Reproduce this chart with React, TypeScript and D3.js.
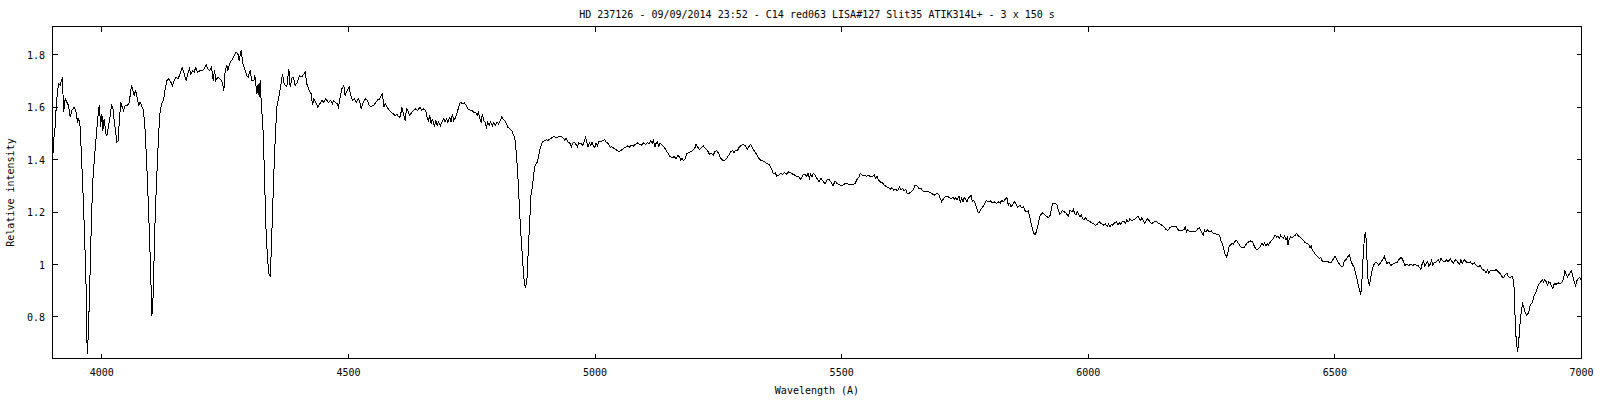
import React from 'react';
import * as d3 from 'd3';

const title = 'HD 237126 - 09/09/2014 23:52 - C14 red063 LISA#127 Slit35 ATIK314L+ - 3 x 150 s';
const xLabel = 'Wavelength (A)';
const yLabel = 'Relative intensity';
const xTicks = [4000, 4500, 5000, 5500, 6000, 6500, 7000];
const yTicks = [0.8, 1, 1.2, 1.4, 1.6, 1.8];
const yTickLabels = ['0.8', '1', '1.2', '1.4', '1.6', '1.8'];
const xDomain = [3900, 7000];
const yDomain = [0.6415, 1.908];

// [wavelength (A), relative intensity]
const spectrum: [number, number][] = [
  [3900.0, 1.378], [3902.1, 1.473], [3904.8, 1.511], [3907.5, 1.600], [3910.2, 1.664], [3912.9, 1.689], [3915.6, 1.683], [3919.0, 1.708], [3920.3, 1.712], [3922.4, 1.581],
  [3925.8, 1.632], [3929.1, 1.619], [3932.5, 1.607], [3935.9, 1.562], [3939.3, 1.588], [3944.0, 1.600], [3948.0, 1.581], [3950.7, 1.543], [3953.5, 1.556], [3956.2, 1.524],
  [3958.2, 1.435], [3960.9, 1.320], [3962.9, 1.219], [3965.0, 1.117], [3966.3, 1.028], [3968.3, 0.907], [3969.7, 0.710], [3971.0, 0.659], [3973.7, 0.799], [3975.8, 0.939],
  [3977.8, 1.091], [3979.8, 1.219], [3981.8, 1.320], [3985.2, 1.409], [3988.6, 1.486], [3991.3, 1.549], [3994.0, 1.600], [3995.3, 1.607], [3997.4, 1.524], [4000.1, 1.575],
  [4002.1, 1.511], [4004.8, 1.556], [4008.2, 1.498], [4010.2, 1.492], [4013.6, 1.530], [4017.0, 1.568], [4019.7, 1.607], [4022.4, 1.600], [4025.1, 1.549], [4027.8, 1.511],
  [4030.5, 1.467], [4033.2, 1.473], [4035.9, 1.562], [4038.6, 1.619], [4041.3, 1.600], [4044.0, 1.588], [4047.4, 1.607], [4050.8, 1.607], [4054.8, 1.613], [4057.5, 1.645],
  [4060.2, 1.683], [4062.9, 1.664], [4065.6, 1.645], [4068.3, 1.664], [4071.7, 1.638], [4074.4, 1.607], [4077.8, 1.619], [4081.8, 1.600], [4084.5, 1.588], [4087.9, 1.511],
  [4091.3, 1.371], [4094.0, 1.244], [4096.0, 1.142], [4098.1, 1.028], [4100.1, 0.900], [4101.4, 0.805], [4103.5, 0.850], [4105.5, 0.990], [4107.5, 1.142], [4110.2, 1.282],
  [4112.2, 1.371], [4114.9, 1.486], [4117.6, 1.575], [4121.0, 1.613], [4125.1, 1.626], [4127.8, 1.664], [4131.8, 1.702], [4135.2, 1.708], [4139.9, 1.696], [4143.3, 1.683],
  [4146.7, 1.702], [4150.8, 1.715], [4154.1, 1.708], [4158.9, 1.727], [4162.9, 1.753], [4167.0, 1.727], [4171.0, 1.702], [4174.4, 1.727], [4177.8, 1.747], [4180.5, 1.727],
  [4184.5, 1.740], [4187.2, 1.734], [4190.6, 1.753], [4194.0, 1.734], [4199.4, 1.740], [4203.5, 1.740], [4207.5, 1.747], [4211.6, 1.763], [4214.3, 1.747], [4218.3, 1.740],
  [4222.4, 1.753], [4225.8, 1.702], [4228.5, 1.740], [4231.2, 1.702], [4235.2, 1.715], [4240.0, 1.708], [4244.0, 1.696], [4247.4, 1.664], [4250.1, 1.740], [4253.5, 1.759],
  [4255.5, 1.740], [4258.9, 1.766], [4262.9, 1.778], [4267.0, 1.791], [4272.4, 1.810], [4275.8, 1.804], [4278.5, 1.778], [4282.5, 1.817], [4285.9, 1.766], [4289.3, 1.747],
  [4294.0, 1.721], [4296.7, 1.715], [4300.8, 1.740], [4304.1, 1.702], [4308.2, 1.702], [4310.2, 1.721], [4314.3, 1.651], [4317.0, 1.689], [4319.0, 1.638], [4321.0, 1.702],
  [4323.7, 1.600], [4326.4, 1.537], [4329.1, 1.384], [4331.2, 1.244], [4333.2, 1.117], [4335.9, 1.028], [4338.6, 0.964], [4341.3, 0.958], [4343.3, 1.040], [4346.0, 1.193],
  [4348.7, 1.346], [4351.4, 1.473], [4354.8, 1.600], [4358.9, 1.638], [4362.9, 1.683], [4366.3, 1.727], [4369.7, 1.689], [4375.1, 1.677], [4379.2, 1.747], [4381.8, 1.677],
  [4385.9, 1.715], [4388.6, 1.715], [4392.0, 1.683], [4396.7, 1.696], [4400.8, 1.721], [4405.5, 1.715],
  [4412.2, 1.734], [4415.6, 1.689], [4420.3, 1.664], [4424.4, 1.651], [4427.1, 1.607], [4429.8, 1.632], [4433.8, 1.619], [4437.9, 1.600], [4441.9, 1.613], [4446.0, 1.626],
  [4450.0, 1.619], [4454.1, 1.632], [4459.5, 1.619], [4463.6, 1.626], [4467.6, 1.613], [4470.3, 1.626], [4473.0, 1.619], [4477.1, 1.613], [4479.8, 1.600], [4482.5, 1.632],
  [4486.5, 1.670], [4490.6, 1.683], [4493.3, 1.645], [4497.3, 1.664], [4501.4, 1.677], [4504.1, 1.651], [4508.2, 1.626], [4512.2, 1.632], [4516.3, 1.619], [4520.3, 1.632],
  [4523.0, 1.619], [4525.7, 1.594], [4529.8, 1.619], [4533.8, 1.632], [4537.9, 1.628], [4541.9, 1.607], [4546.0, 1.603], [4551.4, 1.607], [4555.5, 1.619], [4559.5, 1.628],
  [4563.6, 1.632], [4566.3, 1.645], [4569.0, 1.651], [4571.7, 1.600], [4574.4, 1.613], [4578.4, 1.600], [4582.5, 1.588], [4586.5, 1.581], [4590.6, 1.575], [4594.6, 1.568],
  [4598.7, 1.572], [4602.7, 1.562], [4605.4, 1.565], [4608.2, 1.600], [4610.9, 1.581], [4614.9, 1.549], [4617.6, 1.594], [4620.3, 1.588], [4624.4, 1.568], [4628.4, 1.581],
  [4632.5, 1.588], [4636.5, 1.594], [4640.6, 1.588], [4644.6, 1.600], [4648.7, 1.588], [4652.7, 1.594], [4656.8, 1.588], [4659.5, 1.562], [4662.2, 1.549], [4664.9, 1.568],
  [4667.6, 1.537], [4670.3, 1.556], [4674.4, 1.524], [4677.1, 1.549], [4679.8, 1.530], [4682.5, 1.543], [4686.5, 1.530], [4690.6, 1.549], [4693.3, 1.556], [4696.0, 1.543],
  [4698.7, 1.556], [4701.4, 1.543], [4705.5, 1.562], [4708.2, 1.543], [4710.9, 1.575], [4713.6, 1.549], [4717.6, 1.562], [4721.7, 1.588], [4724.4, 1.607], [4727.1, 1.619],
  [4731.1, 1.613], [4735.2, 1.616], [4739.2, 1.607], [4741.9, 1.594], [4746.0, 1.590], [4750.0, 1.588], [4754.1, 1.581], [4758.2, 1.581], [4760.9, 1.568], [4763.6, 1.581],
  [4766.3, 1.556], [4769.0, 1.543], [4771.7, 1.575], [4774.4, 1.549], [4777.1, 1.543], [4779.8, 1.524], [4782.5, 1.543], [4785.2, 1.530], [4787.9, 1.543], [4792.0, 1.530],
  [4794.7, 1.543], [4797.4, 1.530], [4801.4, 1.543], [4804.1, 1.537], [4808.2, 1.549], [4810.9, 1.562], [4814.9, 1.552], [4819.0, 1.543], [4823.0, 1.524], [4827.1, 1.518],
  [4831.1, 1.511], [4835.2, 1.492], [4837.9, 1.473], [4840.6, 1.422], [4843.3, 1.346], [4846.0, 1.244], [4848.7, 1.142], [4851.4, 1.066], [4854.1, 0.990], [4856.8, 0.926],
  [4859.5, 0.913], [4862.2, 0.951], [4864.9, 1.066], [4867.6, 1.168], [4870.3, 1.269], [4873.0, 1.295], [4875.8, 1.346], [4878.4, 1.378], [4882.5, 1.390], [4885.2, 1.409],
  [4889.3, 1.448], [4893.3, 1.467], [4897.4, 1.473], [4901.4, 1.476], [4904.1, 1.473], [4908.2, 1.479], [4912.2, 1.483], [4916.3, 1.490], [4920.3, 1.483], [4924.4, 1.486],
  [4929.1, 1.490], [4934.5, 1.485], [4938.6, 1.474], [4941.3, 1.481], [4945.3, 1.468], [4949.4, 1.462], [4952.1, 1.449], [4956.1, 1.467], [4960.2, 1.462], [4964.2, 1.449],
  [4966.9, 1.464], [4971.0, 1.462], [4975.0, 1.455], [4977.8, 1.468], [4980.5, 1.485], [4983.2, 1.468], [4985.9, 1.449], [4988.6, 1.464], [4991.3, 1.455], [4994.0, 1.468],
  [4996.7, 1.452], [4999.4, 1.447], [5002.1, 1.464], [5004.8, 1.452], [5007.5, 1.468], [5011.5, 1.468], [5015.6, 1.472], [5019.6, 1.477], [5022.3, 1.468], [5026.4, 1.462],
  [5030.5, 1.447], [5034.5, 1.449], [5038.5, 1.443], [5042.6, 1.439], [5048.0, 1.430], [5053.4, 1.436], [5057.5, 1.443], [5061.5, 1.447], [5065.6, 1.452], [5069.6, 1.447],
  [5073.7, 1.455], [5077.7, 1.452], [5081.8, 1.459], [5085.9, 1.464], [5089.9, 1.459], [5094.0, 1.455], [5098.0, 1.464], [5102.1, 1.459], [5106.1, 1.464], [5110.2, 1.462],
  [5112.9, 1.472], [5115.6, 1.462], [5118.3, 1.477], [5121.0, 1.447], [5123.7, 1.462], [5126.4, 1.468], [5129.1, 1.452], [5131.8, 1.462], [5135.9, 1.455], [5139.9, 1.449],
  [5144.0, 1.436], [5148.0, 1.424], [5152.1, 1.411], [5156.1, 1.408], [5160.2, 1.411], [5164.2, 1.405], [5168.3, 1.417], [5171.0, 1.411], [5173.7, 1.398], [5176.4, 1.405],
  [5179.1, 1.396], [5183.2, 1.405], [5185.9, 1.424], [5189.9, 1.426], [5194.0, 1.430], [5198.0, 1.436], [5202.1, 1.443], [5204.8, 1.459], [5207.5, 1.449], [5211.5, 1.439],
  [5215.6, 1.447], [5219.6, 1.452], [5223.7, 1.443], [5227.7, 1.436], [5231.8, 1.421], [5235.9, 1.424], [5239.9, 1.417], [5242.6, 1.430], [5246.7, 1.434], [5250.7, 1.424],
  [5254.8, 1.405], [5258.8, 1.398], [5262.9, 1.398], [5266.9, 1.405], [5271.0, 1.417], [5275.1, 1.430], [5279.1, 1.434], [5281.8, 1.426], [5284.5, 1.436], [5288.6, 1.434],
  [5292.6, 1.449], [5296.7, 1.455], [5300.7, 1.459], [5304.8, 1.452], [5308.8, 1.439], [5311.5, 1.449], [5315.6, 1.459], [5319.7, 1.443], [5323.7, 1.430], [5327.8, 1.421],
  [5331.8, 1.405], [5335.9, 1.398], [5339.9, 1.396], [5344.0, 1.392], [5348.0, 1.385], [5352.1, 1.383], [5356.1, 1.370], [5358.8, 1.360], [5361.5, 1.347], [5365.6, 1.350],
  [5368.3, 1.337], [5372.4, 1.341], [5376.4, 1.347], [5380.5, 1.345], [5384.5, 1.350], [5388.6, 1.345], [5392.6, 1.354], [5396.7, 1.350], [5400.8, 1.345], [5404.8, 1.341],
  [5408.9, 1.335], [5412.9, 1.337], [5417.0, 1.324], [5421.0, 1.341], [5425.1, 1.345], [5429.1, 1.337], [5431.8, 1.347], [5434.5, 1.328], [5437.2, 1.345], [5439.9, 1.335],
  [5442.6, 1.347],
  [5446.0, 1.341], [5450.1, 1.328], [5454.1, 1.315], [5458.2, 1.328], [5462.2, 1.319], [5466.3, 1.307], [5470.3, 1.322], [5474.4, 1.324], [5478.4, 1.315], [5482.5, 1.299],
  [5486.5, 1.319], [5490.6, 1.309], [5494.6, 1.306], [5498.7, 1.299], [5502.8, 1.303], [5506.8, 1.309], [5510.9, 1.309], [5514.9, 1.306], [5519.0, 1.306], [5523.0, 1.306],
  [5527.1, 1.309], [5531.1, 1.324], [5535.2, 1.335], [5537.9, 1.347], [5541.9, 1.341], [5546.0, 1.341], [5550.1, 1.337], [5554.1, 1.341], [5558.2, 1.335], [5562.2, 1.337],
  [5566.3, 1.341], [5569.0, 1.328], [5571.7, 1.337], [5574.4, 1.324], [5578.4, 1.315], [5582.5, 1.312], [5586.5, 1.303], [5590.6, 1.296], [5594.7, 1.294], [5598.7, 1.286],
  [5601.4, 1.294], [5605.5, 1.284], [5609.5, 1.286], [5613.6, 1.281], [5617.6, 1.296], [5620.3, 1.284], [5623.0, 1.290], [5627.1, 1.281], [5629.8, 1.286], [5632.5, 1.273],
  [5636.6, 1.271], [5640.6, 1.277], [5644.7, 1.284], [5648.7, 1.303], [5652.8, 1.299], [5656.8, 1.290], [5660.9, 1.290], [5664.9, 1.281], [5669.0, 1.277], [5673.0, 1.281],
  [5677.1, 1.277], [5681.1, 1.273], [5685.2, 1.268], [5689.3, 1.264], [5693.3, 1.273], [5697.4, 1.264], [5700.1, 1.252], [5702.8, 1.239], [5705.5, 1.248], [5709.5, 1.258],
  [5713.6, 1.261], [5717.6, 1.256], [5721.7, 1.252], [5725.7, 1.256], [5728.4, 1.248], [5731.1, 1.256], [5733.9, 1.245], [5737.9, 1.261], [5740.6, 1.239], [5743.3, 1.252],
  [5746.0, 1.239], [5748.7, 1.256], [5751.4, 1.248], [5754.1, 1.239], [5756.8, 1.252], [5759.5, 1.258], [5762.2, 1.264], [5764.9, 1.239], [5767.6, 1.245], [5770.3, 1.235],
  [5773.0, 1.220], [5775.7, 1.201], [5778.4, 1.197], [5781.1, 1.207], [5785.2, 1.217], [5789.2, 1.230], [5793.3, 1.245], [5797.4, 1.239], [5801.4, 1.243], [5805.5, 1.235],
  [5809.5, 1.239], [5813.6, 1.233], [5817.6, 1.239], [5821.7, 1.235], [5824.4, 1.245], [5828.4, 1.239], [5831.1, 1.248], [5835.2, 1.256], [5837.9, 1.226], [5840.6, 1.233],
  [5843.3, 1.220], [5847.4, 1.230], [5850.1, 1.239], [5854.1, 1.230], [5856.8, 1.220], [5860.9, 1.226], [5865.0, 1.217], [5869.0, 1.220], [5871.7, 1.205], [5875.8, 1.201],
  [5878.4, 1.205], [5881.2, 1.182], [5883.9, 1.159], [5886.6, 1.137], [5889.3, 1.121], [5892.0, 1.112], [5894.7, 1.125], [5897.4, 1.144], [5900.1, 1.169], [5902.8, 1.188],
  [5906.8, 1.197], [5910.9, 1.192], [5915.0, 1.184], [5919.0, 1.179], [5923.0, 1.188], [5925.8, 1.220], [5928.5, 1.233], [5932.5, 1.235], [5936.6, 1.226], [5939.3, 1.207],
  [5942.0, 1.192], [5944.7, 1.197], [5947.4, 1.207], [5951.4, 1.201], [5955.5, 1.195], [5959.5, 1.184],
  [5962.9, 1.207], [5967.0, 1.201], [5969.7, 1.210], [5972.4, 1.195], [5975.1, 1.188], [5977.8, 1.201], [5980.5, 1.192], [5983.2, 1.182], [5985.9, 1.188], [5988.6, 1.175],
  [5991.3, 1.172], [5994.0, 1.179], [5998.0, 1.169], [6002.1, 1.166], [6006.1, 1.159], [6010.2, 1.156], [6014.3, 1.150], [6018.3, 1.154], [6022.4, 1.163], [6026.4, 1.156],
  [6030.5, 1.150], [6034.5, 1.156], [6038.6, 1.144], [6041.3, 1.154], [6044.0, 1.144], [6046.7, 1.154], [6049.4, 1.150], [6053.4, 1.159], [6057.5, 1.163], [6060.2, 1.150],
  [6062.9, 1.159], [6065.6, 1.154], [6068.3, 1.163], [6072.4, 1.166], [6075.1, 1.156], [6077.8, 1.169], [6081.8, 1.163], [6084.5, 1.175], [6088.6, 1.166], [6092.6, 1.172],
  [6095.3, 1.175], [6098.0, 1.179], [6100.7, 1.184], [6103.4, 1.175], [6106.1, 1.169], [6108.8, 1.179], [6111.6, 1.166], [6114.3, 1.156], [6117.0, 1.166], [6119.7, 1.175],
  [6122.4, 1.169], [6125.1, 1.163], [6129.1, 1.156], [6133.2, 1.163], [6137.2, 1.166], [6141.3, 1.159], [6145.3, 1.154], [6149.4, 1.150], [6153.4, 1.144], [6157.5, 1.133],
  [6161.6, 1.131], [6165.6, 1.141], [6169.7, 1.146], [6173.7, 1.144], [6177.8, 1.146], [6181.8, 1.133], [6185.9, 1.128], [6189.9, 1.131], [6194.0, 1.133], [6196.7, 1.144],
  [6199.4, 1.124], [6202.1, 1.133], [6206.2, 1.124], [6210.2, 1.128], [6214.3, 1.124], [6218.3, 1.128], [6222.4, 1.137], [6225.1, 1.141], [6227.8, 1.131], [6230.5, 1.121],
  [6233.2, 1.112], [6235.9, 1.131], [6238.6, 1.124], [6241.3, 1.133], [6245.3, 1.124], [6249.4, 1.128], [6252.1, 1.121], [6256.2, 1.118], [6260.2, 1.116], [6264.3, 1.116],
  [6267.0, 1.105], [6269.7, 1.086], [6272.4, 1.077], [6275.1, 1.055], [6277.8, 1.035], [6280.5, 1.029], [6283.2, 1.048], [6285.9, 1.070], [6288.6, 1.074], [6291.3, 1.080],
  [6294.0, 1.077], [6296.7, 1.086], [6300.8, 1.093], [6303.4, 1.083], [6306.2, 1.077], [6308.9, 1.067], [6312.9, 1.065], [6317.0, 1.067], [6321.0, 1.080], [6325.1, 1.086],
  [6329.1, 1.090], [6333.2, 1.086], [6337.2, 1.067], [6341.3, 1.057], [6345.3, 1.061], [6349.4, 1.070], [6352.1, 1.080], [6354.8, 1.074], [6357.5, 1.083], [6360.2, 1.070],
  [6362.9, 1.080], [6365.6, 1.074], [6368.3, 1.083], [6371.0, 1.090], [6373.7, 1.095], [6376.4, 1.105], [6379.1, 1.112], [6381.8, 1.105], [6384.5, 1.108], [6387.2, 1.099],
  [6389.9, 1.112], [6392.6, 1.105], [6395.3, 1.099], [6398.0, 1.108], [6400.8, 1.095], [6403.4, 1.103], [6404.8, 1.074], [6407.5, 1.099], [6410.2, 1.105], [6412.9, 1.103],
  [6417.0, 1.108], [6419.7, 1.112], [6422.4, 1.118], [6426.4, 1.108], [6430.5, 1.103], [6434.5, 1.095], [6438.6, 1.086], [6442.6, 1.080], [6446.7, 1.077], [6449.4, 1.065],
  [6452.1, 1.070], [6454.8, 1.052], [6457.5, 1.048], [6460.2, 1.039], [6462.9, 1.035], [6465.6, 1.029], [6468.3, 1.023], [6471.0, 1.027], [6473.7, 1.016], [6476.4, 1.010],
  [6479.8, 1.010], [6486.6, 1.010], [6492.0, 1.006], [6496.0, 1.019], [6500.1, 1.032], [6504.1, 1.019], [6508.2, 1.004], [6512.2, 0.994], [6516.3, 0.994], [6519.0, 1.014],
  [6523.0, 1.019], [6527.1, 1.032], [6529.8, 1.036], [6532.5, 1.016], [6535.2, 1.001], [6539.3, 0.988], [6542.0, 0.968], [6544.7, 0.946], [6547.4, 0.921], [6550.1, 0.902],
  [6552.1, 0.883], [6554.1, 0.915], [6555.5, 0.959], [6556.8, 1.016], [6558.2, 1.055], [6559.5, 1.093], [6561.6, 1.125], [6563.6, 1.093], [6564.9, 1.029], [6566.3, 0.965],
  [6567.6, 0.934], [6570.3, 0.921], [6573.0, 0.953], [6575.7, 0.978], [6578.4, 0.997], [6581.2, 1.006], [6585.2, 1.006], [6589.3, 0.997], [6593.3, 1.010], [6597.4, 1.019],
  [6600.1, 1.032], [6602.8, 1.016], [6605.5, 1.004], [6609.5, 1.010], [6613.6, 0.997], [6617.6, 1.001], [6621.7, 1.006], [6625.8, 1.006], [6629.8, 1.019], [6633.9, 1.027],
  [6636.6, 1.023], [6639.3, 1.010], [6642.0, 0.997], [6646.0, 1.001], [6650.1, 0.997], [6654.1, 1.001], [6658.2, 0.997], [6662.2, 1.001], [6666.3, 0.994], [6669.0, 0.997],
  [6671.7, 0.988], [6674.4, 0.981], [6677.1, 1.004], [6679.8, 1.014], [6682.5, 0.994], [6685.2, 1.004], [6687.9, 1.010], [6690.6, 0.994], [6693.3, 1.001], [6696.0, 1.016],
  [6698.7, 0.997], [6701.4, 1.006], [6705.5, 1.010], [6709.5, 1.019], [6712.2, 1.010], [6714.9, 1.023], [6719.0, 1.014], [6723.0, 1.010], [6727.1, 1.019], [6729.8, 1.010],
  [6733.9, 1.023], [6737.9, 1.010], [6740.6, 1.006], [6744.7, 1.019], [6748.7, 1.010], [6752.8, 1.001], [6755.5, 1.019], [6758.2, 1.004], [6762.2, 1.019], [6766.3, 1.010],
  [6770.4, 1.006], [6774.4, 1.010], [6778.5, 1.001], [6782.5, 1.006], [6786.6, 0.997], [6790.6, 0.991], [6794.7, 0.997], [6798.7, 0.981], [6802.8, 0.978], [6806.8, 0.968],
  [6809.5, 0.978], [6812.2, 0.966], [6814.9, 0.976], [6819.0, 0.978], [6823.1, 0.976], [6827.1, 0.981], [6831.2, 0.972], [6835.2, 0.966], [6837.9, 0.955], [6842.0, 0.950],
  [6844.7, 0.959], [6848.7, 0.968], [6851.4, 0.953], [6855.5, 0.950], [6859.5, 0.955], [6862.2, 0.940], [6863.6, 0.902], [6864.9, 0.826], [6866.3, 0.749], [6868.3, 0.698],
  [6870.4, 0.667], [6872.4, 0.698], [6874.4, 0.749], [6876.4, 0.800], [6878.5, 0.826], [6880.5, 0.851], [6883.2, 0.838], [6885.2, 0.819], [6889.3, 0.806], [6893.3, 0.819],
  [6896.0, 0.845], [6900.1, 0.854], [6904.1, 0.883], [6908.2, 0.896], [6912.2, 0.921], [6916.3, 0.930], [6920.3, 0.943], [6923.0, 0.934], [6925.8, 0.943], [6928.5, 0.934],
  [6931.2, 0.921], [6933.9, 0.934], [6936.6, 0.930], [6939.3, 0.917], [6942.0, 0.908], [6944.7, 0.927], [6948.7, 0.925], [6952.8, 0.930], [6956.8, 0.927], [6959.5, 0.930],
  [6963.6, 0.946], [6966.3, 0.978], [6969.0, 0.963], [6971.7, 0.953], [6975.8, 0.965], [6979.8, 0.976], [6982.5, 0.953], [6985.2, 0.934], [6987.9, 0.921], [6990.6, 0.938],
  [6993.3, 0.946], [6996.0, 0.950], [7000.0, 0.940],
];

const FONT = "'DejaVu Sans Mono', 'Liberation Mono', monospace";

export default function App() {
  const W = 1600;
  const H = 400;
  const left = 52.5;
  const right = 1581.5;
  const top = 26.5;
  const bottom = 358.5;
  const tickLen = 5;

  const x = d3.scaleLinear().domain(xDomain).range([left, right]);
  const y = d3.scaleLinear().domain(yDomain).range([bottom, top]);
  const line = d3
    .line<[number, number]>()
    .x((d) => x(d[0]))
    .y((d) => y(d[1]));
  const pathD = line(spectrum) || '';

  const px = (v: number) => Math.round(x(v) - 0.5) + 0.5;
  const py = (v: number) => Math.round(y(v) - 0.5) + 0.5;

  return (
    <svg
      width={W}
      height={H}
      viewBox={`0 0 ${W} ${H}`}
      style={{ position: 'absolute', left: 0, top: 0, background: '#fff' }}
    >
      <rect x={0} y={0} width={W} height={H} fill="#fff" />
      <text x={(left + right) / 2} y={17.5} textAnchor="middle" fontFamily={FONT} fontSize={10} fill="#000">
        {title}
      </text>
      <g stroke="#000" strokeWidth={1} shapeRendering="crispEdges">
        {xTicks.map((t) => (
          <g key={'xt' + t}>
            <line x1={px(t)} x2={px(t)} y1={bottom} y2={bottom - tickLen} />
            <line x1={px(t)} x2={px(t)} y1={top} y2={top + tickLen} />
          </g>
        ))}
        {yTicks.map((t) => (
          <g key={'yt' + t}>
            <line x1={left} x2={left + tickLen} y1={py(t)} y2={py(t)} />
            <line x1={right} x2={right - tickLen} y1={py(t)} y2={py(t)} />
          </g>
        ))}
      </g>
      <path d={pathD} fill="none" stroke="#000" strokeWidth={1} shapeRendering="crispEdges" strokeLinejoin="miter" />
      <rect
        x={left}
        y={top}
        width={right - left}
        height={bottom - top}
        fill="none"
        stroke="#000"
        strokeWidth={1}
        shapeRendering="crispEdges"
      />
      {xTicks.map((t) => (
        <text key={'xl' + t} x={x(t)} y={375.5} textAnchor="middle" fontFamily={FONT} fontSize={10} fill="#000">
          {String(t)}
        </text>
      ))}
      {yTicks.map((t, i) => (
        <text key={'yl' + t} x={45} y={y(t) + 4} textAnchor="end" fontFamily={FONT} fontSize={10} fill="#000">
          {yTickLabels[i]}
        </text>
      ))}
      <text x={(left + right) / 2} y={394} textAnchor="middle" fontFamily={FONT} fontSize={10} fill="#000">
        {xLabel}
      </text>
      <text
        transform={`translate(14, ${(top + bottom) / 2}) rotate(-90)`}
        textAnchor="middle"
        fontFamily={FONT}
        fontSize={10}
        fill="#000"
      >
        {yLabel}
      </text>
    </svg>
  );
}
